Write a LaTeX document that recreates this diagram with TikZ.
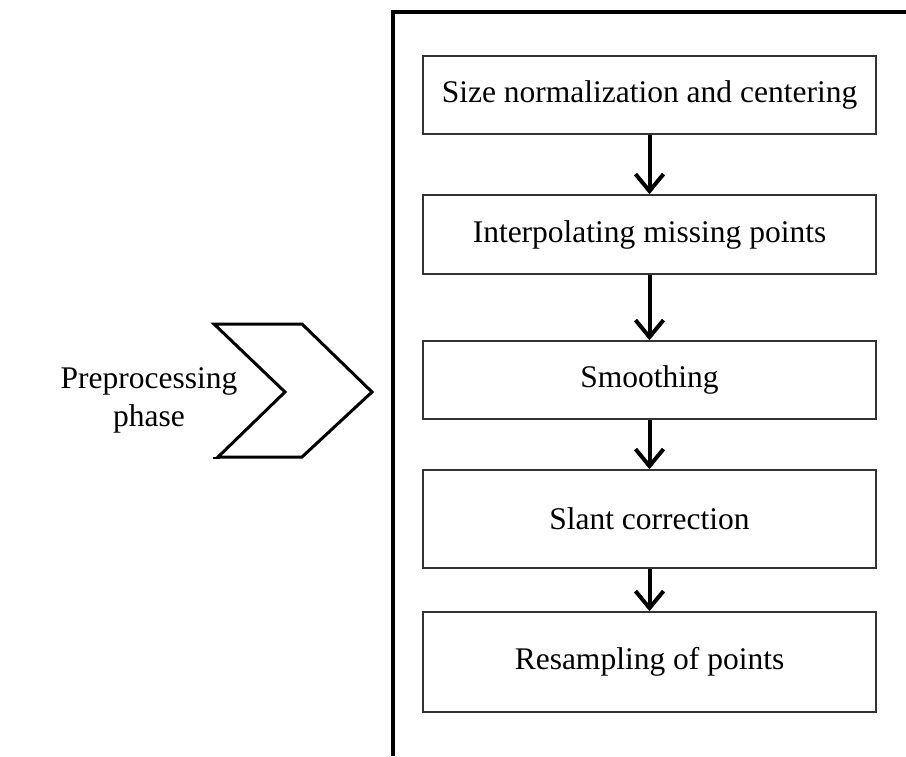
\documentclass[tikz,border=0pt]{standalone}
\usepackage{fontspec}
\setmainfont{Liberation Serif}
\usetikzlibrary{arrows.meta}
\begin{document}
\begin{tikzpicture}[x=1pt,y=-1pt,
  stepbox/.style={draw=black!80,line width=1.6pt,minimum width=453pt,
    inner sep=0pt,font=\fontsize{31.5}{38}\selectfont},
  flow/.style={line width=4pt,-{Straight Barb[length=17pt,width=28pt,line width=4pt]}},
  label/.style={align=center,font=\fontsize{31.5}{38}\selectfont}]
\useasboundingbox (0,0) rectangle (906,756);
% outer frame, open towards the right and the bottom
\draw[line width=4.5pt] (906,12) -- (393,12) -- (393,756);
% processing steps
\node[stepbox,minimum height=78pt] (s1) at (649.5,95) {Size normalization and centering};
\node[stepbox,minimum height=79pt] (s2) at (649.5,234.5) {Interpolating missing points};
\node[stepbox,minimum height=78pt] (s3) at (649.5,380) {Smoothing};
\node[stepbox,minimum height=98pt] (s4) at (649.5,519) {Slant correction};
\node[stepbox,minimum height=100pt] (s5) at (649.5,662) {Resampling of points};
\draw[flow] (s1.south) -- (s2.north);
\draw[flow] (s2.south) -- (s3.north);
\draw[flow] (s3.south) -- (s4.north);
\draw[flow] (s4.south) -- (s5.north);
% phase label and chevron
\node[label] (phase) at (149,400) {Preprocessing\\phase};
\draw[line width=3pt,line join=miter] (214,324) -- (302,324) -- (372,392) -- (302,457)
  -- (218,457) -- (285,392) -- cycle;
\draw[line width=1.5pt] (213,458) -- (220,458);
\end{tikzpicture}
\end{document}
